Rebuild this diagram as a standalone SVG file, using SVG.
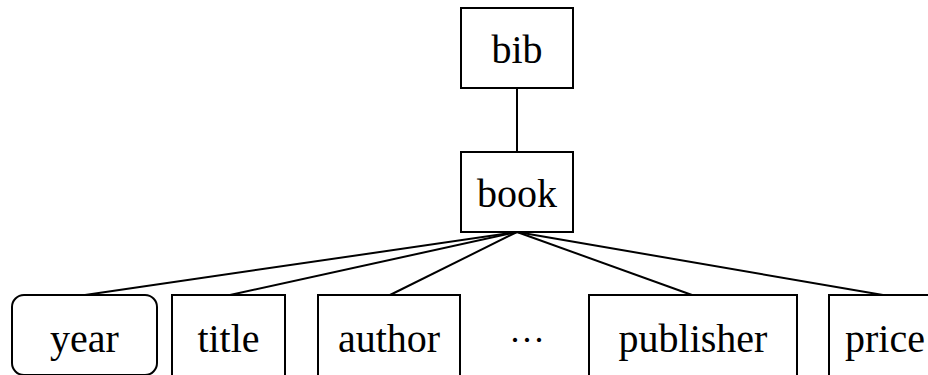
<svg xmlns="http://www.w3.org/2000/svg" width="928" height="375" viewBox="0 0 928 375">
<style>
.n{fill:#fff;stroke:#000;stroke-width:2}
.t{font-family:"Liberation Serif",serif;font-size:40px;text-anchor:middle;fill:#000}
.e{stroke:#000;stroke-width:2;fill:none}
</style>
<rect width="928" height="375" fill="#fff"/>
<g id="connectors">
<line class="e" x1="517" y1="88" x2="517" y2="152"/>
<line class="e" x1="517" y1="232" x2="85" y2="295"/>
<line class="e" x1="517" y1="232" x2="230" y2="295"/>
<line class="e" x1="517" y1="232" x2="390" y2="295"/>
<line class="e" x1="517" y1="232" x2="692" y2="295"/>
<line class="e" x1="517" y1="232" x2="883" y2="295"/>
</g>
<g id="bib"><rect class="n" x="461" y="8" width="112" height="80"/><text class="t" x="517" y="63">bib</text></g>
<g id="book"><rect class="n" x="461" y="152" width="112" height="80"/><text class="t" x="517" y="207">book</text></g>
<g id="year"><rect class="n" x="12" y="295" width="145" height="80" rx="12"/><text class="t" x="84.5" y="352">year</text></g>
<g id="title"><rect class="n" x="172" y="295" width="113" height="90"/><text class="t" x="228.5" y="352">title</text></g>
<g id="author"><rect class="n" x="318" y="295" width="142" height="90"/><text class="t" x="389" y="352">author</text></g>
<g id="ellipsis"><text class="t" x="527" y="352" style="font-size:36px">···</text></g>
<g id="publisher"><rect class="n" x="589" y="295" width="208" height="90"/><text class="t" x="693" y="352">publisher</text></g>
<g id="price"><rect class="n" x="829" y="295" width="120" height="90"/><text class="t" x="885" y="352">price</text></g>
</svg>
